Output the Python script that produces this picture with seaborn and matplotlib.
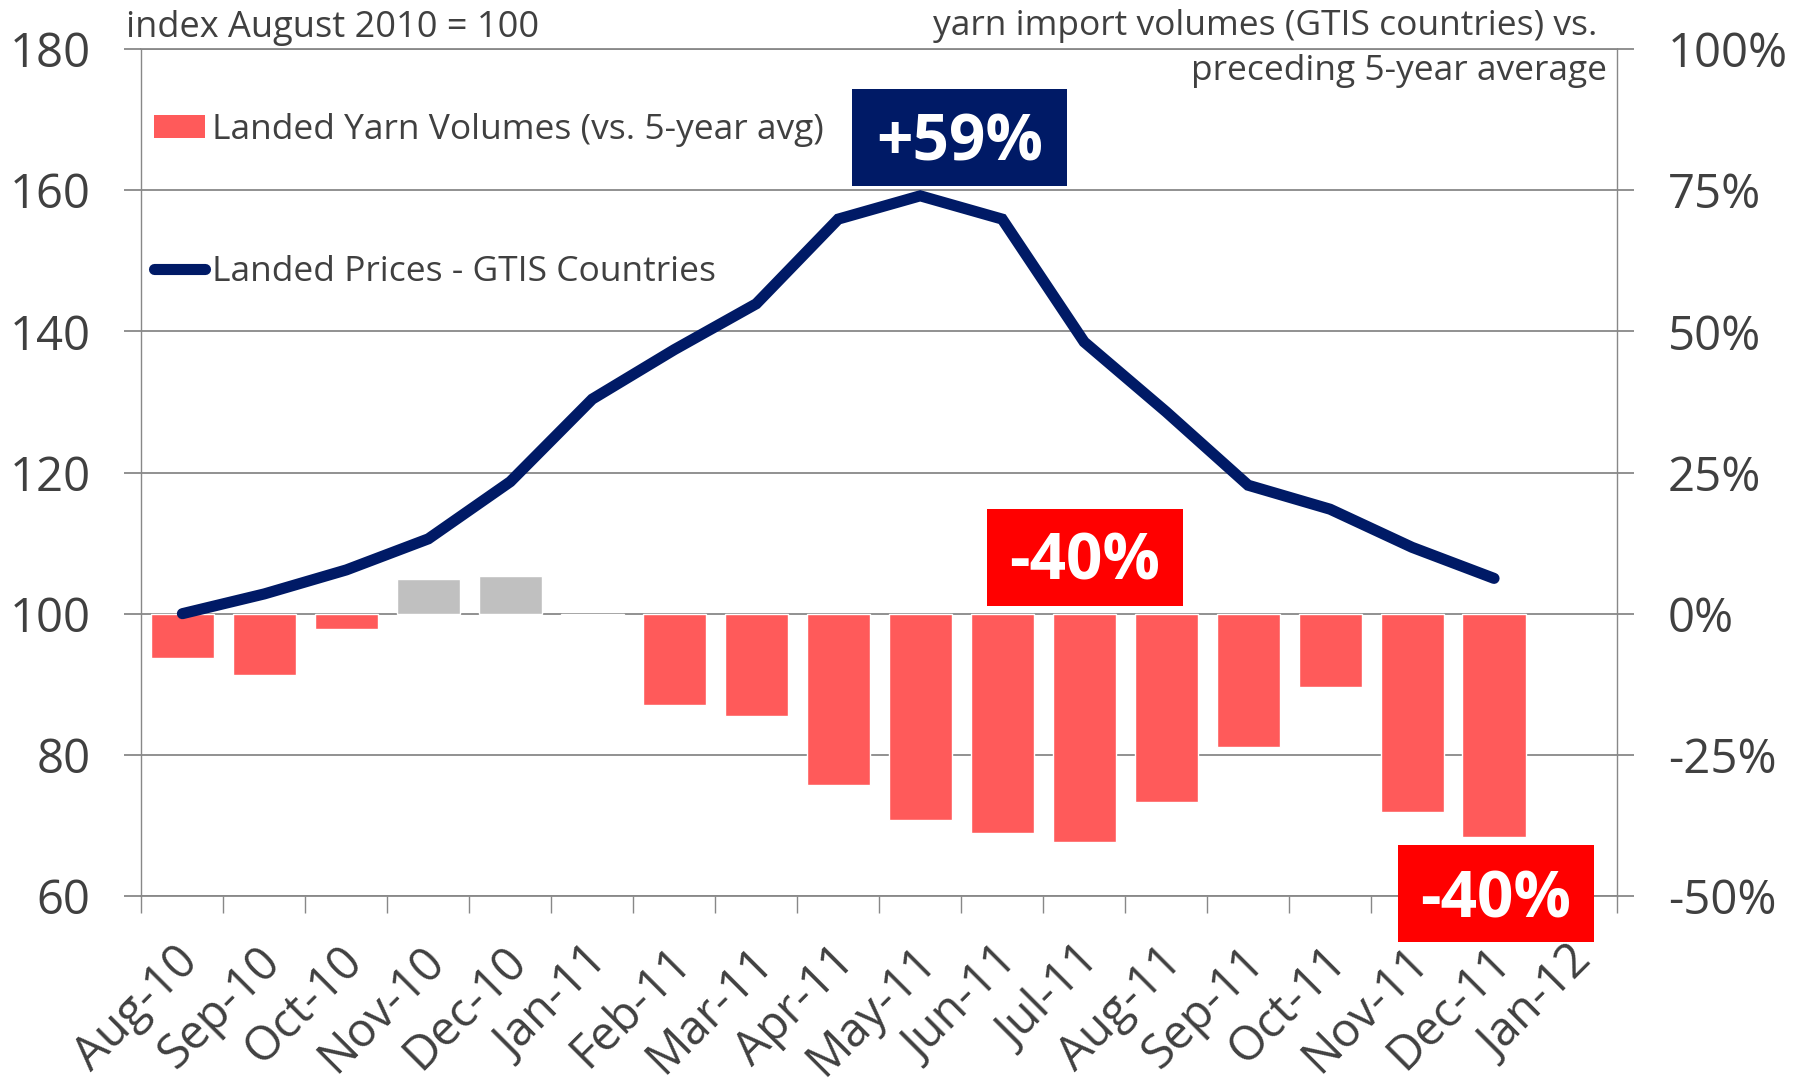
import numpy as np
import pandas as pd
import matplotlib
matplotlib.use("Agg")
import matplotlib.pyplot as plt
import matplotlib.transforms as mtransforms
import seaborn as sns
from matplotlib.patches import Patch, Rectangle
from matplotlib.lines import Line2D
from matplotlib.ticker import FixedLocator, FuncFormatter

# ---------------- data ----------------
months = ["Aug-10", "Sep-10", "Oct-10", "Nov-10", "Dec-10", "Jan-11", "Feb-11",
          "Mar-11", "Apr-11", "May-11", "Jun-11", "Jul-11", "Aug-11", "Sep-11",
          "Oct-11", "Nov-11", "Dec-11", "Jan-12"]
volume_months = months[:17]
volume_pct = [-7.8, -10.9, -2.8, 6.1, 6.7, -0.3, -16.2, -18.2, -30.3, -36.5,
              -38.9, -40.4, -33.3, -23.7, -13.0, -35.1, -39.5]
price_index = [100.0, 102.8, 106.2, 110.6, 118.7, 130.4, 137.4, 143.9, 155.9,
               159.2, 155.9, 138.5, 128.6, 118.2, 114.8, 109.4, 105.0]
left_ticks = [60, 80, 100, 120, 140, 160, 180]
right_ticks = [-50, -25, 0, 25, 50, 75, 100]

legend_labels = ["Landed Yarn Volumes (vs. 5-year avg)", "Landed Prices - GTIS Countries"]
note_left = "index August 2010 = 100"
note_right1 = "yarn import volumes (GTIS countries) vs."
note_right2 = "preceding 5-year average"
callouts = ["+59%", "-40%", "-40%"]

# ---------------- style ----------------
RED = "#FF5A5A"
GRAY_BAR = "#C0C0C0"
NAVY = "#001A66"
BOX_RED = "#FF0000"
GRID = "#888888"
TXT = "#404040"

sns.set_theme(style="white")
plt.rcParams["font.family"] = ["Open Sans", "DejaVu Sans"]

fig = plt.figure(figsize=(18.02, 10.86), dpi=100)
ax = fig.add_axes([0.07847, 0.17495, 0.81887, 0.77993])

df = pd.DataFrame({"month": volume_months, "pct": volume_pct})
df["kind"] = np.where(df["pct"] > 0, "pos", "neg")

sns.barplot(data=df, x="month", y="pct", order=months, hue="kind",
            palette={"neg": RED, "pos": GRAY_BAR}, dodge=False, width=0.77,
            saturation=1, legend=False, ax=ax, zorder=2)

ax.set_xlim(-0.5, len(months) - 0.5)
ax.set_ylim(right_ticks[0], right_ticks[-1])
ax.set_axisbelow(True)
ax.grid(axis="y", color=GRID, linewidth=1.3)
ax.grid(axis="x", visible=False)
ax.set_xlabel("")
ax.set_ylabel("")

# ---------------- line on twin axis ----------------
ax2 = ax.twinx()
x_pos = np.arange(len(price_index))
sns.lineplot(x=x_pos, y=price_index, ax=ax2, color=NAVY, linewidth=8,
             solid_capstyle="round", solid_joinstyle="miter", zorder=3)
ax2.set_ylim(left_ticks[0], left_ticks[-1])
ax2.set_xlim(-0.5, len(months) - 0.5)
ax2.grid(False)
ax2.set_ylabel("")
for side in ["left", "right", "top", "bottom"]:
    ax2.spines[side].set_visible(False)

# right axis (bars, percent)
ax.yaxis.tick_right()
ax.yaxis.set_major_locator(FixedLocator(right_ticks))
ax.yaxis.set_major_formatter(FuncFormatter(lambda v, p: f"{v:.0f}%"))
ax.tick_params(axis="y", which="major", right=True, left=False,
               labelright=True, labelleft=False, length=12.5,
               width=1.3, color=GRID, pad=24, labelsize=34, labelcolor=TXT,
               direction="out")

# left axis (index)
ax2.yaxis.tick_left()
ax2.yaxis.set_major_locator(FixedLocator(left_ticks))
ax2.tick_params(axis="y", which="major", left=True, right=False, length=12.5,
                width=1.3, color=GRID, pad=24, labelsize=34, labelcolor=TXT,
                direction="out", labelleft=True, labelright=False)

# x ticks: labels at centers, marks at boundaries
ax.set_xticks(range(len(months)))
ax.set_xticklabels(months)
ax.set_xticks(np.arange(len(months) + 1) - 0.5, minor=True)
ax.tick_params(axis="x", which="major", length=0, pad=42, labelsize=34,
               labelcolor=TXT)
ax.tick_params(axis="x", which="minor", length=12.5, width=1.0, color=GRID,
               direction="out", bottom=True)
shift = mtransforms.ScaledTranslation(9 / 100, 0, fig.dpi_scale_trans)
for lab in ax.get_xticklabels():
    lab.set_rotation(45)
    lab.set_ha("right")
    lab.set_va("center")
    lab.set_rotation_mode("anchor")
    lab.set_transform(lab.get_transform() + shift)

for side in ["left", "right", "top", "bottom"]:
    ax.spines[side].set_visible(True)
    ax.spines[side].set_color(GRID)
ax.spines["left"].set_linewidth(1.0)
ax.spines["right"].set_linewidth(1.0)
ax.spines["top"].set_linewidth(1.3)
ax.spines["bottom"].set_linewidth(1.3)

# ---------------- legend ----------------
handles = [Patch(facecolor=RED, edgecolor="none"),
           Line2D([0], [0], color=NAVY, linewidth=8, solid_capstyle="round")]
leg = ax2.legend(handles, legend_labels, loc="upper left",
                 bbox_to_anchor=(0.0085, 0.924), frameon=False, fontsize=25.5,
                 labelspacing=3.05, handlelength=1.45, handleheight=0.62,
                 handletextpad=0.2, borderpad=0, borderaxespad=0)
for t in leg.get_texts():
    t.set_color(TXT)

# ---------------- notes ----------------
fig.text(126 / 1802, 1 - 37 / 1086, note_left, fontsize=26, color=TXT,
         ha="left", va="baseline")
fig.text(1597 / 1802, 1 - 35 / 1086, note_right1, fontsize=25.5, color=TXT,
         ha="right", va="baseline")
fig.text(1607 / 1802, 1 - 80 / 1086, note_right2, fontsize=25.5, color=TXT,
         ha="right", va="baseline")

# ---------------- callout boxes (axes fraction) ----------------
boxes = [
    (0.4816, 0.8383, 0.1457, 0.1145, NAVY, 0.5544, 0.8678),
    (0.5730, 0.3424, 0.1328, 0.1145, BOX_RED, 0.6395, 0.3731),
    (0.8515, -0.0543, 0.1328, 0.1145, BOX_RED, 0.9180, -0.0248),
]
for (x0, y0, w, h, col, tx, ty), label in zip(boxes, callouts):
    r = Rectangle((x0, y0), w, h, transform=ax2.transAxes, facecolor=col,
                  edgecolor="none", clip_on=False, zorder=10)
    ax2.add_patch(r)
    ax2.text(tx, ty, label, transform=ax2.transAxes, ha="center",
             va="baseline", color="white", fontsize=46, fontweight="bold",
             zorder=11, clip_on=False)

fig.savefig("out.png", dpi=100)
